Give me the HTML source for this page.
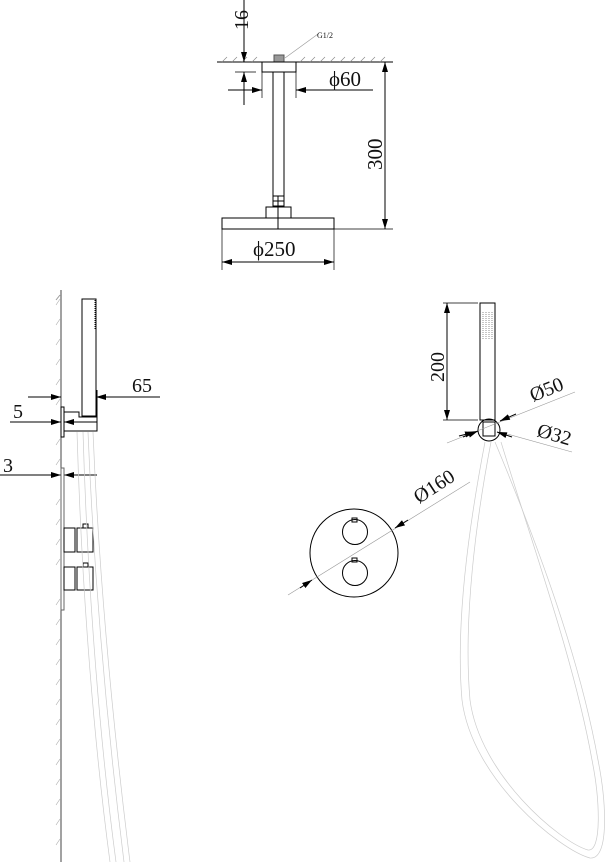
<!DOCTYPE html>
<html><head><meta charset="utf-8"><style>
html,body{margin:0;padding:0;background:#fff;width:606px;height:866px;overflow:hidden}
svg{display:block}
text{font-family:"Liberation Serif",serif;fill:#111}
</style></head><body>
<svg width="606" height="866" viewBox="0 0 606 866" xmlns="http://www.w3.org/2000/svg">
<defs>
<marker id="a" viewBox="0 0 10 6" refX="10" refY="3" markerWidth="10" markerHeight="6" orient="auto-start-reverse" markerUnits="userSpaceOnUse"><path d="M0,0L10,3L0,6z" fill="#000"/></marker>
</defs>
<g stroke="#000" stroke-width="1" fill="none">
<!-- ceiling -->
<line x1="217" y1="62" x2="393" y2="62"/>
<g stroke="#888" stroke-width="0.7">
<path d="M222,62l5,-5M232,62l5,-5M242,62l5,-5M252,62l5,-5M300,62l5,-5M310,62l5,-5M320,62l5,-5M330,62l5,-5M340,62l5,-5M350,62l5,-5M360,62l5,-5M370,62l5,-5M380,62l5,-5"/>
</g>
<rect x="274" y="55" width="10" height="7" fill="#999" stroke="#555"/>
<line x1="285" y1="58" x2="318" y2="34" stroke="#999" stroke-width="0.6"/>
<rect x="262" y="62" width="34" height="10"/>
<line x1="273" y1="72" x2="273" y2="196"/><line x1="284" y1="72" x2="284" y2="196"/>
<rect x="273" y="196" width="11" height="10"/>
<line x1="273" y1="201" x2="284" y2="201"/>
<rect x="266" y="207" width="25" height="11"/>
<rect x="222" y="218" width="112" height="11"/>
<line x1="278" y1="196" x2="278" y2="229"/>
<!-- 16 -->
<line x1="244" y1="0" x2="244" y2="62" marker-end="url(#a)"/>
<line x1="244" y1="105" x2="244" y2="72" marker-end="url(#a)"/>
<line x1="235" y1="72" x2="256" y2="72" stroke-width="0.7"/>
<!-- phi60 -->
<line x1="262" y1="72" x2="262" y2="98" stroke-width="0.7"/>
<line x1="296" y1="72" x2="296" y2="98" stroke-width="0.7"/>
<line x1="228" y1="90" x2="262" y2="90" marker-end="url(#a)"/>
<line x1="373" y1="90" x2="296" y2="90" marker-end="url(#a)"/>
<!-- 300 -->
<line x1="385" y1="62" x2="385" y2="229" marker-start="url(#a)" marker-end="url(#a)"/>
<line x1="334" y1="229" x2="393" y2="229" stroke-width="0.7"/>
<!-- phi250 -->
<line x1="222" y1="229" x2="222" y2="270" stroke-width="0.7"/>
<line x1="334" y1="229" x2="334" y2="270" stroke-width="0.7"/>
<line x1="222" y1="262" x2="334" y2="262" marker-start="url(#a)" marker-end="url(#a)"/>

<!-- left side view -->
<line x1="61" y1="290" x2="61" y2="862" stroke="#444"/>
<path d="M56,300 l4,-5" stroke="#999"/>
<g stroke="#aaa" stroke-width="0.6">
<path d="M56,305l4,-6M56,325l4,-6M56,345l4,-6M56,365l4,-6M56,385l4,-6M56,405l4,-6M56,445l4,-6M56,465l4,-6M56,505l4,-6M56,525l4,-6M56,545l4,-6M56,565l4,-6M56,605l4,-6M56,625l4,-6M56,645l4,-6M56,665l4,-6M56,685l4,-6M56,705l4,-6M56,725l4,-6M56,745l4,-6M56,765l4,-6M56,785l4,-6M56,805l4,-6M56,825l4,-6M56,845l4,-6"/>
</g>
<rect x="82" y="299" width="14" height="117"/>
<line x1="95" y1="300" x2="95" y2="330" stroke-dasharray="1,1"/>
<path d="M64,412 H79 V417 H97 V431 H64"/>
<line x1="97" y1="390" x2="97" y2="431"/>
<rect x="61" y="407" width="3" height="30"/>
<line x1="28" y1="397" x2="61" y2="397" marker-end="url(#a)"/>
<line x1="160" y1="397" x2="96" y2="397" marker-end="url(#a)"/>
<line x1="10" y1="422" x2="61" y2="422" marker-end="url(#a)"/>
<line x1="97" y1="422" x2="64" y2="422" marker-end="url(#a)"/>
<line x1="0" y1="475" x2="61" y2="475" marker-end="url(#a)"/>
<line x1="97" y1="475" x2="64" y2="475" marker-end="url(#a)"/>
<rect x="61" y="468" width="3" height="142" stroke="#666"/>
<rect x="64" y="528" width="11" height="24"/><rect x="77" y="528" width="16" height="24"/>
<rect x="83" y="524" width="5" height="4"/>
<rect x="64" y="567" width="11" height="23"/><rect x="77" y="567" width="16" height="23"/>
<rect x="83" y="563" width="5" height="4"/>
<g stroke="#ccc" stroke-width="0.7">
<path d="M77,432 C82,600 95,750 110,862"/>
<path d="M83,432 C88,600 101,750 116,862"/>
<path d="M88,432 C95,600 110,750 124,862"/>
<path d="M93,432 C100,600 116,750 130,862"/>
</g>

<!-- right: handshower -->
<rect x="480" y="303" width="15" height="117"/>
<g stroke="#444" stroke-width="0.6" stroke-dasharray="1,1">
<line x1="483" y1="312" x2="483" y2="340"/><line x1="486" y1="312" x2="486" y2="340"/><line x1="489" y1="312" x2="489" y2="340"/><line x1="492" y1="312" x2="492" y2="340"/>
</g>
<circle cx="489" cy="430" r="11"/>
<rect x="483" y="422" width="12" height="14"/>
<line x1="443" y1="303" x2="478" y2="303" stroke-width="0.7"/>
<line x1="443" y1="420" x2="478" y2="420" stroke-width="0.7"/>
<line x1="447" y1="303" x2="447" y2="420" marker-start="url(#a)" marker-end="url(#a)"/>
<line x1="447" y1="443" x2="575" y2="392" stroke="#999" stroke-width="0.6"/>
<line x1="463" y1="437" x2="478" y2="431" marker-end="url(#a)"/>
<line x1="516" y1="414" x2="500" y2="421" marker-end="url(#a)"/>
<line x1="500" y1="432" x2="572" y2="452" stroke="#999" stroke-width="0.6"/>
<line x1="459" y1="436" x2="475" y2="432" marker-end="url(#a)"/>
<line x1="512" y1="437" x2="497" y2="432" marker-end="url(#a)"/>
<!-- mixer -->
<circle cx="354" cy="553" r="44"/>
<circle cx="355" cy="532" r="12.5"/><rect x="352" y="518" width="5" height="4"/>
<circle cx="355" cy="573" r="12.5"/><rect x="352" y="558" width="5" height="4"/>
<line x1="288" y1="595" x2="470" y2="482" stroke="#999" stroke-width="0.6"/>
<line x1="300" y1="588" x2="312" y2="580" marker-end="url(#a)"/>
<line x1="408" y1="520" x2="395" y2="528" marker-end="url(#a)"/>
<g stroke="#ccc" stroke-width="0.7">
<path d="M485,442 C470,520 455,620 462,700 C472,780 560,850 590,858 C610,860 606,800 598,760 C580,660 540,550 495,442"/>
<path d="M491,442 C476,520 463,620 470,700 C480,775 560,842 588,850 C602,852 600,800 592,760 C574,660 534,550 501,442"/>
</g>
</g>
<text x="0" y="0" font-size="20" transform="translate(248,30) rotate(-90)">16</text>
<text x="317" y="38" font-size="8">G1/2</text>
<text x="329" y="86" font-size="21">ϕ60</text>
<text x="0" y="0" font-size="21" transform="translate(382,170) rotate(-90)">300</text>
<text x="253" y="256" font-size="21">ϕ250</text>
<text x="132" y="392" font-size="20">65</text>
<text x="13" y="418" font-size="20">5</text>
<text x="3" y="472" font-size="20">3</text>
<text x="0" y="0" font-size="20" transform="translate(444,382) rotate(-90)">200</text>
<text x="0" y="0" font-size="20" transform="translate(533,402) rotate(-22)">Ø50</text>
<text x="0" y="0" font-size="20" transform="translate(536,436) rotate(16)">Ø32</text>
<text x="0" y="0" font-size="20" transform="translate(419,504) rotate(-33)">Ø160</text>
</svg>
</body></html>
